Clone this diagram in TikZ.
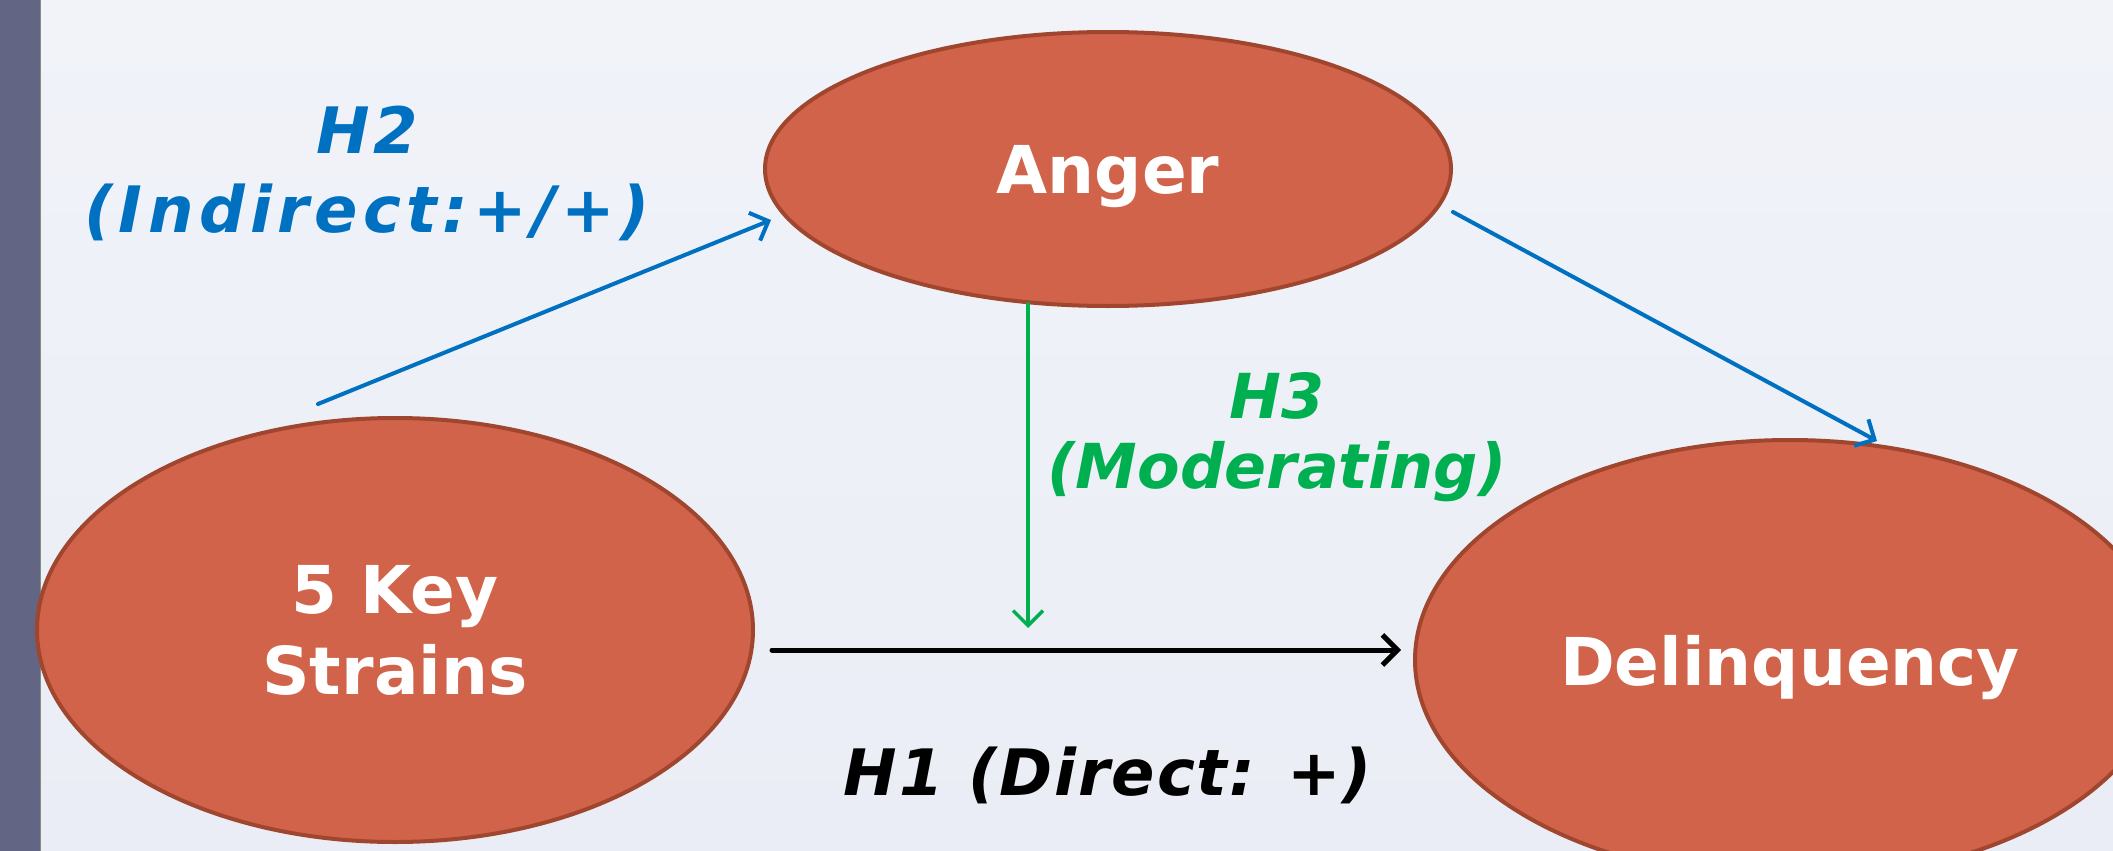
\documentclass[tikz,border=0pt]{standalone}
\usepackage{fontspec}
\setmainfont{DejaVu Sans}[BoldFont={DejaVu Sans Bold},ItalicFont={DejaVu Sans Oblique},BoldItalicFont={DejaVu Sans Bold Oblique}]
\usetikzlibrary{arrows.meta,shapes.geometric}
\definecolor{bgtop}{HTML}{F1F3F9}
\definecolor{bgbot}{HTML}{EAEDF5}
\definecolor{barcol}{HTML}{636584}
\definecolor{baredge}{HTML}{7F9080}
\definecolor{ellfill}{HTML}{D0634A}
\definecolor{elledge}{HTML}{A0462F}
\definecolor{hblue}{HTML}{0070C0}
\definecolor{hgreen}{HTML}{00B050}
\begin{document}
\begin{tikzpicture}[x=1pt,y=-1pt,
  construct/.style={ellipse, draw=elledge, line width=4pt, fill=ellfill, inner sep=0pt,
    text=white, font=\bfseries\fontsize{66}{81}\selectfont, align=center, text depth=0pt},
  hyp/.style={font=\bfseries\itshape\fontsize{64}{79}\selectfont, align=center, inner sep=0pt},
  link/.style={line width=4pt, line cap=round, -{Straight Barb[length=15pt,width=30pt]}}]
\useasboundingbox (0,0) rectangle (2113,851);
\shade[top color=bgtop, bottom color=bgbot] (0,0) rectangle (2113,851);
\fill[barcol] (0,0) rectangle (40,851);
\draw[baredge, line width=1.5pt] (40.5,0) -- (40.5,851);

\node[construct, minimum width=686pt, minimum height=274pt] (anger) at (1108,169) {Anger};
\node[construct, minimum width=716pt, minimum height=424pt] (strains) at (395,630) {5 Key\\Strains};
\node[construct, minimum width=750pt, minimum height=440pt] (delinq) at (1790,660) {Delinquency};

\coordinate (h2a) at (318,404);
\coordinate (h2b) at (771,220);
\coordinate (adA) at (1453,212);
\coordinate (adB) at (1877,441);
\coordinate (h3a) at (1028,304);
\coordinate (h3b) at (1028,628);
\coordinate (h1a) at (772,650);
\coordinate (h1b) at (1401,650);

\draw[link, hblue] (h2a) -- (h2b);
\draw[link, hblue] (adA) -- (adB);
\draw[link, hgreen, line width=3.5pt] (h3a) -- (h3b);
\draw[link, black, line width=5pt] (h1a) -- (h1b);

\node[hyp, text=hblue, anchor=north] (h2lab) at (367,106) {{\addfontfeature{LetterSpace=5}H2}\\{\addfontfeature{LetterSpace=8.4}(Indirect:+/+)}};
\node[hyp, text=hgreen, anchor=north, font=\bfseries\itshape\fontsize{62}{70}\selectfont] (h3lab) at (1277,372) {H3\\(Moderating)};
\node[hyp, text=black, anchor=base] (h1lab) at (1108,795) {\addfontfeature{LetterSpace=3}H1 (Direct: +)};
\end{tikzpicture}
\end{document}
